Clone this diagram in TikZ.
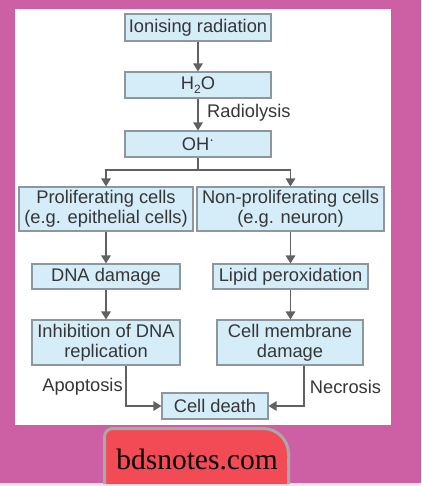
\documentclass[tikz,border=0pt]{standalone}
\usepackage{fontspec}
\setmainfont{Liberation Sans}
\newfontfamily\btnfont{Liberation Serif}
\usetikzlibrary{arrows.meta}
\definecolor{bgmag}{HTML}{CD60A4}
\definecolor{boxfill}{HTML}{D5ECF9}
\definecolor{boxline}{HTML}{8C989E}
\definecolor{txtc}{HTML}{363636}
\definecolor{arrc}{HTML}{616161}
\definecolor{btnred}{HTML}{F24B55}
\definecolor{btnedge}{HTML}{A9A9AB}
\definecolor{stripc}{HTML}{E7E7EB}
\tikzset{
  flowbox/.style={draw=boxline, line width=1.1pt, fill=boxfill, text=txtc, align=center,
    inner sep=0pt, font=\fontsize{18.3}{20}\selectfont},
  conn/.style={draw=arrc, line width=1.3pt, -{Triangle[width=9.5pt,length=8pt]}},
  plainconn/.style={draw=arrc, line width=1.3pt},
  lbl/.style={text=txtc, inner sep=0pt, font=\fontsize{18.3}{20}\selectfont}
}
\begin{document}
\begin{tikzpicture}[x=1pt,y=-1pt]
\useasboundingbox (0,0) rectangle (421,486);
\fill[bgmag] (0,0) rectangle (421,486);
\fill[white] (15,9) rectangle (391,425);
\fill[stripc] (0,482.5) rectangle (421,486);

% nodes
\node[flowbox, minimum width=146pt, minimum height=27pt] (ion) at (198,27.5) {Ionising radiation};
\node[flowbox, minimum width=146pt, minimum height=26pt] (h2o) at (198,85) {H\raisebox{-4pt}{\fontsize{12}{12}\selectfont 2}O};
\node[flowbox, minimum width=146pt, minimum height=26pt] (oh) at (198,144) {OH\raisebox{6pt}{\fontsize{14}{14}\selectfont ·}};
\node[flowbox, minimum width=174pt, minimum height=44pt] (prol) at (106,209) {Proliferating cells\\(e.g. epithelial cells)};
\node[flowbox, minimum width=187pt, minimum height=44pt] (nonp) at (290.5,209) {Non-proliferating cells\\(e.g. neuron)};
\node[flowbox, minimum width=148pt, minimum height=25pt] (dna) at (106,276.5) {DNA damage};
\node[flowbox, minimum width=155pt, minimum height=25pt] (lipid) at (290.5,276.5) {Lipid peroxidation};
\node[flowbox, minimum width=148pt, minimum height=45pt] (inhib) at (106,342.5) {Inhibition of DNA\\replication};
\node[flowbox, minimum width=146pt, minimum height=45pt] (memb) at (290,342.5) {Cell membrane\\damage};
\node[flowbox, minimum width=106pt, minimum height=26pt] (death) at (215,406) {Cell death};

% labels
\node[lbl, anchor=west] (radl) at (207,113) {Radiolysis};
\node[lbl] (apl) at (82.5,387) {Apoptosis};
\node[lbl] (nel) at (345.5,387) {Necrosis};

% connectors
\coordinate (split) at (198,170);
\draw[conn] (ion) -- (h2o);
\draw[conn] (h2o) -- (oh);
\draw[plainconn] (oh.south) -- (split);
\draw[conn] (split) -| (prol.north);
\draw[conn] (split) -| (nonp.north);
\draw[conn] (prol) -- (dna);
\draw[conn] (nonp.south) -- (lipid.north);
\draw[conn] (dna) -- (inhib);
\draw[conn] (lipid.south) -- (memb.north -| lipid.south);
\draw[conn] (inhib.south -| 126,0) |- (death.west);
\draw[conn] (memb.south -| 304,0) |- (death.east);

% button
\draw[line width=3pt, draw=btnedge, fill=btnred]
  (104.5,484) -- (104.5,437) .. controls (104.5,432) and (108,428.5) .. (113,428.5)
  -- (263,428.5) .. controls (277,428.5) and (288.5,439.5) .. (288.5,454) -- (288.5,484);
\node[inner sep=0pt, font=\btnfont\fontsize{29.5}{30}\selectfont, text=black] (btn) at (197,459) {bdsnotes.com};
\end{tikzpicture}
\end{document}
